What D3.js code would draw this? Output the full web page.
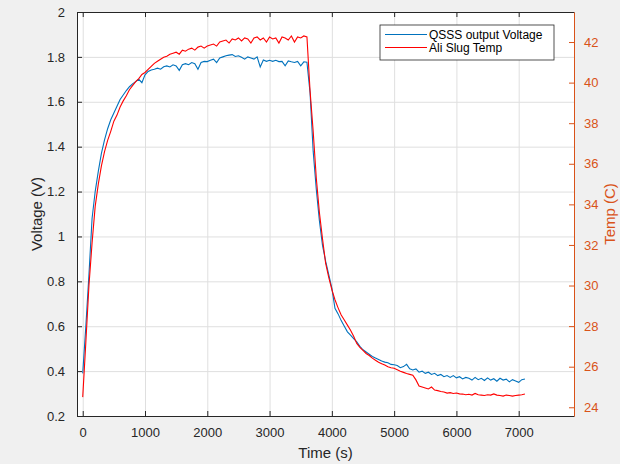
<!DOCTYPE html>
<html>
<head>
<meta charset="utf-8">
<script src="https://cdn.jsdelivr.net/npm/d3@7"></script>
<style>
  body { margin: 0; background: #f0f0f0; }
  svg { display: block; font-family: "Liberation Sans", Arial, sans-serif; }
</style>
</head>
<body>
<svg id="chart" width="620" height="464"></svg>
<script>
// sample times, one reading every 50 s
var timeSec = d3.range(0, 7150, 50);

// QSSS output voltage (V), left axis
var voltage = [
  0.39, 0.60, 0.83, 1.08, 1.20, 1.29, 1.37, 1.43, 1.48, 1.52,
  1.55, 1.58, 1.61, 1.63, 1.65, 1.667, 1.68, 1.69, 1.70, 1.685,
  1.72, 1.735, 1.742, 1.745, 1.75, 1.745, 1.756, 1.76, 1.755, 1.765,
  1.76, 1.74, 1.765, 1.77, 1.765, 1.775, 1.77, 1.745, 1.775, 1.78,
  1.779, 1.785, 1.79, 1.775, 1.795, 1.80, 1.805, 1.808, 1.81, 1.802,
  1.805, 1.798, 1.79, 1.80, 1.795, 1.79, 1.80, 1.755, 1.786, 1.78,
  1.785, 1.78, 1.785, 1.779, 1.78, 1.76, 1.782, 1.778, 1.775, 1.78,
  1.76, 1.778, 1.776, 1.64, 1.38, 1.21, 1.07, 0.96, 0.89, 0.83,
  0.77, 0.68, 0.655, 0.625, 0.60, 0.575, 0.56, 0.545, 0.53, 0.51,
  0.495, 0.485, 0.475, 0.465, 0.458, 0.452, 0.445, 0.44, 0.437, 0.43,
  0.428, 0.425, 0.415, 0.42, 0.43, 0.41, 0.405, 0.41, 0.395, 0.40,
  0.39, 0.395, 0.385, 0.39, 0.38, 0.385, 0.375, 0.38, 0.372, 0.38,
  0.37, 0.375, 0.365, 0.372, 0.368, 0.36, 0.372, 0.362, 0.368, 0.358,
  0.37, 0.36, 0.366, 0.355, 0.368, 0.36, 0.364, 0.352, 0.362, 0.356,
  0.35, 0.362, 0.365
];

// Ali slug temperature (C), right axis
var temp = [
  24.5, 27.2, 30.0, 32.1, 33.9, 35.0, 35.9, 36.6, 37.15, 37.6,
  38.1, 38.4, 38.8, 39.1, 39.35, 39.65, 39.85, 40.05, 40.2, 40.4,
  40.5, 40.65, 40.8, 40.95, 41.05, 41.15, 41.25, 41.3, 41.4, 41.45,
  41.5, 41.4, 41.6, 41.55, 41.65, 41.7, 41.6, 41.75, 41.8, 41.7,
  41.8, 41.85, 41.9, 41.8, 42.0, 42.05, 42.1, 41.95, 42.15, 42.1,
  42.2, 42.05, 42.2, 42.15, 41.95, 42.2, 42.25, 42.1, 42.2, 42.0,
  42.25, 42.15, 42.2, 41.95, 42.25, 42.2, 42.1, 42.3, 42.0, 42.25,
  42.2, 42.3, 42.25, 39.6, 37.6, 35.3, 33.6, 32.3, 31.1, 30.4,
  29.8, 29.3, 28.9, 28.55, 28.3, 28.05, 27.8, 27.5, 27.15, 26.95,
  26.8, 26.65, 26.55, 26.42, 26.32, 26.22, 26.15, 26.08, 26.0, 25.95,
  25.92, 25.85, 25.78, 25.72, 25.66, 25.62, 25.58, 25.35, 25.05, 25.0,
  24.95, 24.9, 25.0, 24.85, 24.82, 24.78, 24.75, 24.7, 24.72, 24.68,
  24.7, 24.66, 24.65, 24.62, 24.64, 24.6, 24.68, 24.62, 24.6, 24.58,
  24.62, 24.6, 24.66, 24.6, 24.58, 24.55, 24.6, 24.58, 24.55, 24.58,
  24.6, 24.62, 24.65
];

var xTicks = [0, 1000, 2000, 3000, 4000, 5000, 6000, 7000];
var vTicks = [0.2, 0.4, 0.6, 0.8, 1, 1.2, 1.4, 1.6, 1.8, 2];
var tTicks = [24, 26, 28, 30, 32, 34, 36, 38, 40, 42];
var legendNames = ["QSSS output Voltage", "Ali Slug Temp"];

var plotL = 77, plotR = 574, plotT = 12, plotB = 416;
var axisCol = "#262626", tempCol = "#D95319";
var blue = "#0072BD", red = "#FF0000";

var svg = d3.select("#chart");

var timeScale = d3.scaleLinear().domain([-92, 7888]).range([plotL, plotR]);
var voltScale = d3.scaleLinear().domain([0.2, 2]).range([plotB, plotT]);
var tempScale = d3.scaleLinear().domain([23.57, 43.48]).range([plotB, plotT]);

// plot area
svg.append("rect")
   .attr("x", plotL).attr("y", plotT)
   .attr("width", plotR - plotL).attr("height", plotB - plotT)
   .attr("fill", "white");

// grid
svg.append("g")
   .attr("transform", "translate(0," + plotB + ")")
   .call(d3.axisBottom(timeScale).tickValues(xTicks).tickSize(-(plotB - plotT)).tickFormat(""))
   .call(function(g){
     g.select(".domain").remove();
     g.selectAll("line").attr("stroke", "#dfdfdf");
   });
svg.append("g")
   .attr("transform", "translate(" + plotL + ",0)")
   .call(d3.axisLeft(voltScale).tickValues(vTicks).tickSize(-(plotR - plotL)).tickFormat(""))
   .call(function(g){
     g.select(".domain").remove();
     g.selectAll("line").attr("stroke", "#dfdfdf");
   });

// lines
var vLine = d3.line()
  .x(function(d, i){ return timeScale(timeSec[i]); })
  .y(function(d){ return voltScale(d); });
var tLine = d3.line()
  .x(function(d, i){ return timeScale(timeSec[i]); })
  .y(function(d){ return tempScale(d); });

svg.append("path").datum(voltage)
   .attr("d", vLine).attr("fill", "none")
   .attr("stroke", blue).attr("stroke-width", 1.1);
svg.append("path").datum(temp)
   .attr("d", tLine).attr("fill", "none")
   .attr("stroke", red).attr("stroke-width", 1.1);

// axes
function styleAxis(g, col){
  g.select(".domain").attr("stroke", col);
  g.selectAll(".tick line").attr("stroke", col);
  g.selectAll(".tick text").attr("fill", col).style("font-size", "13px")
   .style("font-family", "'Liberation Sans', Arial, sans-serif");
}

svg.append("g")
   .attr("transform", "translate(0," + plotB + ")")
   .call(d3.axisBottom(timeScale).tickValues(xTicks).tickSizeInner(-5).tickSizeOuter(0)
         .tickPadding(12).tickFormat(d3.format("d")))
   .call(function(g){ styleAxis(g, axisCol); });
svg.append("g")
   .attr("transform", "translate(0," + plotT + ")")
   .call(d3.axisTop(timeScale).tickValues(xTicks).tickSizeInner(-5).tickSizeOuter(0).tickFormat(""))
   .call(function(g){ styleAxis(g, axisCol); });
svg.append("g")
   .attr("transform", "translate(" + plotL + ",0)")
   .call(d3.axisLeft(voltScale).tickValues(vTicks).tickSizeInner(-5).tickSizeOuter(0).tickPadding(12)
         .tickFormat(function(d){ return d3.format("~g")(d); }))
   .call(function(g){ styleAxis(g, axisCol); });
svg.append("g")
   .attr("transform", "translate(" + plotR + ",0)")
   .call(d3.axisRight(tempScale).tickValues(tTicks).tickSizeInner(-5).tickSizeOuter(0).tickPadding(10))
   .call(function(g){ styleAxis(g, tempCol); });

// axis titles
svg.append("text")
   .attr("x", (plotL + plotR) / 2).attr("y", 458)
   .attr("text-anchor", "middle").attr("fill", axisCol)
   .style("font-size", "15px").text("Time (s)");
svg.append("text")
   .attr("transform", "translate(42," + (plotT + plotB) / 2 + ") rotate(-90)")
   .attr("text-anchor", "middle").attr("fill", axisCol)
   .style("font-size", "15px").text("Voltage (V)");
svg.append("text")
   .attr("transform", "translate(615," + (plotT + plotB) / 2 + ") rotate(-90)")
   .attr("text-anchor", "middle").attr("fill", tempCol)
   .style("font-size", "15px").text("Temp (C)");

// legend
var legend = svg.append("g").attr("transform", "translate(380,25)");
legend.append("rect")
   .attr("width", 174).attr("height", 35)
   .attr("fill", "white").attr("stroke", axisCol).attr("stroke-width", 0.8);
var legendCols = [blue, red];
legendNames.forEach(function(name, i){
  var yy = 9.5 + i * 13;
  legend.append("line")
     .attr("x1", 5).attr("x2", 47).attr("y1", yy).attr("y2", yy)
     .attr("stroke", legendCols[i]).attr("stroke-width", 1.1);
  legend.append("text")
     .attr("x", 49).attr("y", yy + 4.5)
     .attr("fill", "black").style("font-size", "12px")
     .text(name);
});
</script>
</body>
</html>
